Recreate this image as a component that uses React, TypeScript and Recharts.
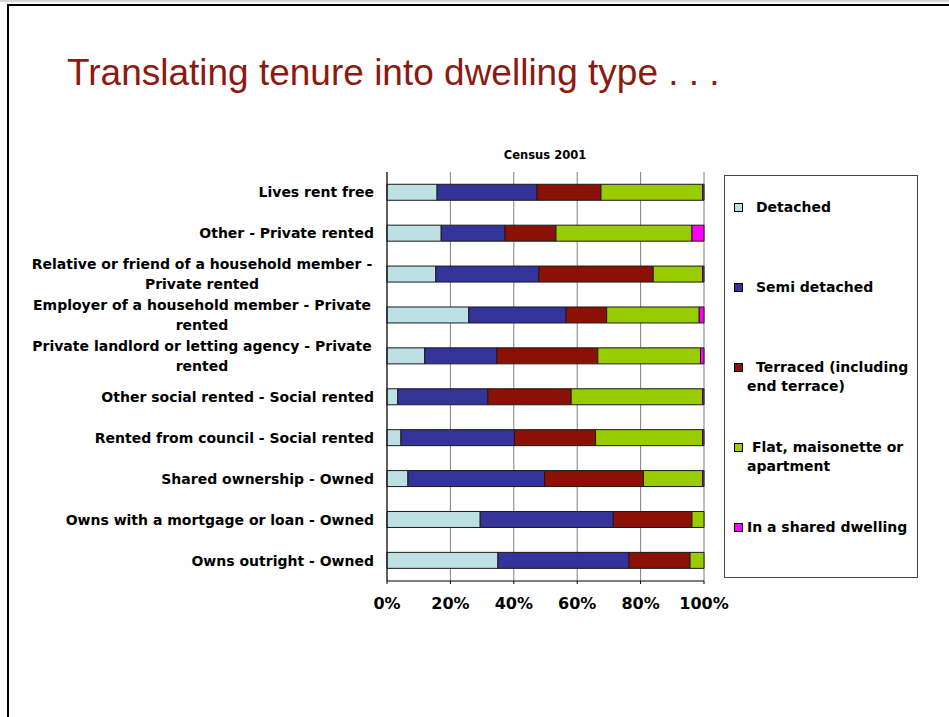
import React from 'react';
import { BarChart, Bar, XAxis, YAxis, CartesianGrid, Legend } from 'recharts';

// Tenure categories, top to bottom
const tenures = [
  'Lives rent free',
  'Other - Private rented',
  'Relative or friend of a household member - Private rented',
  'Employer of a household member - Private rented',
  'Private landlord or letting agency - Private rented',
  'Other social rented - Social rented',
  'Rented from council - Social rented',
  'Shared ownership - Owned',
  'Owns with a mortgage or loan - Owned',
  'Owns outright - Owned',
];

// Share of households (%) in each dwelling type, one value per tenure
const detached = [15.8, 17.1, 15.4, 25.8, 11.9, 3.4, 4.4, 6.6, 29.4, 35.0];
const semiDetached = [31.5, 20.1, 32.5, 30.7, 22.8, 28.4, 35.8, 43.1, 42.0, 41.3];
const terraced = [20.2, 16.1, 36.1, 12.8, 31.8, 26.3, 25.6, 31.2, 24.8, 19.3];
const flat = [32.1, 42.9, 15.6, 29.2, 32.4, 41.5, 33.8, 18.7, 3.8, 4.4];
const sharedDwelling = [0.4, 3.8, 0.4, 1.5, 1.1, 0.4, 0.4, 0.4, 0, 0];

const xTicks = [0, 0.2, 0.4, 0.6, 0.8, 1];

const series = [
  { key: 'detached', name: 'Detached', color: '#BCE0E3', values: detached, indent: 9 },
  { key: 'semi', name: 'Semi detached', color: '#333399', values: semiDetached, indent: 9 },
  { key: 'terraced', name: 'Terraced (including end terrace)', color: '#8B1006', values: terraced, indent: 9 },
  { key: 'flat', name: 'Flat, maisonette or apartment', color: '#99CC00', values: flat, indent: 5 },
  { key: 'shared', name: 'In a shared dwelling', color: '#FF00FF', values: sharedDwelling, indent: 0 },
];

const data = tenures.map((tenure, i) => {
  const row: Record<string, string | number> = { tenure };
  series.forEach((s) => {
    row[s.key] = s.values[i];
  });
  return row;
});

const FONT = '"DejaVu Sans", Verdana, sans-serif';
const LABEL_SIZE = 14;
const WRAP_WIDTH = 350;

let measureCtx: CanvasRenderingContext2D | null = null;
function wrapLabel(text: string): string[] {
  if (!measureCtx) measureCtx = document.createElement('canvas').getContext('2d');
  const ctx = measureCtx!;
  ctx.font = `bold ${LABEL_SIZE}px "DejaVu Sans"`;
  const words = text.split(' ');
  const lines: string[] = [];
  let line = '';
  for (const w of words) {
    const next = line ? line + ' ' + w : w;
    if (line && ctx.measureText(next).width > WRAP_WIDTH) {
      lines.push(line);
      line = w;
    } else {
      line = next;
    }
  }
  lines.push(line);
  return lines;
}

// single-line labels sit flush right, wrapped ones are centred in the label column
const TenureTick = (props: any) => {
  const { x, y, payload } = props;
  const lines = wrapLabel(String(payload.value));
  const style = { fontFamily: FONT, fontSize: LABEL_SIZE, fontWeight: 'bold' as const, fill: '#000' };
  if (lines.length === 1) {
    return (
      <text x={x} y={y} dy="0.36em" textAnchor="end" style={style}>
        {lines[0]}
      </text>
    );
  }
  const cx = x - 172;
  return (
    <text textAnchor="middle" style={style}>
      {lines.map((l, i) => (
        <tspan key={i} x={cx} y={y + (i - (lines.length - 1) / 2) * 20} dy="0.36em">
          {l}
        </tspan>
      ))}
    </text>
  );
};

const seriesIndex = (name: string) => series.findIndex((s) => s.name === name);

const LegendBox = (props: any) => {
  // keep the legend in series order (top of the stack first)
  const payload = [...(props.payload || [])].sort(
    (a: any, b: any) => seriesIndex(a.value) - seriesIndex(b.value),
  );
  return (
    <div
      style={{
        boxSizing: 'border-box',
        width: 194,
        height: 403,
        border: '1px solid #444',
        background: '#fff',
        paddingTop: 22,
        fontFamily: FONT,
        fontSize: 14,
        fontWeight: 'bold',
        color: '#000',
      }}
    >
      {payload.map((entry: any) => {
        const s = series[seriesIndex(entry.value)];
        return (
          <div key={entry.value} style={{ position: 'relative', height: 80, paddingLeft: 22 }}>
            <span
              style={{
                position: 'absolute',
                left: 9,
                top: 5,
                width: 9,
                height: 9,
                boxSizing: 'border-box',
                border: '1px solid #000',
                background: entry.color,
              }}
            />
            <div style={{ width: 170, lineHeight: '19px', textIndent: s ? s.indent : 0 }}>{entry.value}</div>
          </div>
        );
      })}
    </div>
  );
};

const boundaryTicks = tenures.map((_, i) => i).concat(tenures.length);

export default function App() {
  return (
    <div
      style={{
        position: 'absolute',
        left: 0,
        top: 0,
        width: 949,
        height: 717,
        background: '#fff',
        overflow: 'hidden',
      }}
    >
      <div style={{ position: 'absolute', left: 0, top: 0, width: 949, height: 2, background: '#d4d4d4' }} />
      <div
        style={{
          position: 'absolute',
          left: 7,
          top: 4,
          width: 960,
          height: 760,
          borderTop: '2px solid #000',
          borderLeft: '2px solid #000',
        }}
      />
      <div
        style={{
          position: 'absolute',
          left: 67,
          top: 54,
          fontFamily: '"Liberation Sans", Arial, sans-serif',
          fontSize: 37,
          lineHeight: '37px',
          color: '#8C1A10',
          whiteSpace: 'nowrap',
        }}
      >
        Translating tenure into dwelling type . . .
      </div>
      <div
        style={{
          position: 'absolute',
          left: 445,
          width: 200,
          top: 147,
          textAlign: 'center',
          fontFamily: FONT,
          fontSize: 11.5,
          fontWeight: 'bold',
          lineHeight: '16px',
        }}
      >
        Census 2001
      </div>
      <div style={{ position: 'absolute', left: 0, top: 0 }}>
        <BarChart
          width={949}
          height={717}
          data={data}
          layout="vertical"
          stackOffset="expand"
          barCategoryGap="30%"
          margin={{ top: 172, right: 245, bottom: 96, left: 0 }}
        >
          <CartesianGrid horizontal={false} stroke="#808080" />
          <XAxis
            type="number"
            domain={[0, 1]}
            ticks={xTicks}
            tickFormatter={(v: number) => `${Math.round(v * 100)}%`}
            axisLine={{ stroke: '#000' }}
            tickLine={{ stroke: '#000' }}
            tickSize={3}
            tickMargin={14}
            height={40}
            tick={{ fontFamily: FONT, fontSize: 16, fontWeight: 'bold', fill: '#000' }}
            interval={0}
          />
          <XAxis
            xAxisId="top"
            orientation="top"
            type="number"
            domain={[0, 1]}
            allowDataOverflow
            height={0}
            tick={false}
            tickLine={false}
            axisLine={{ stroke: '#000' }}
          />
          <YAxis
            type="category"
            dataKey="tenure"
            width={387}
            tickSize={0}
            tickMargin={13}
            tickLine={false}
            axisLine={{ stroke: '#000' }}
            tick={<TenureTick />}
            interval={0}
          />
          <YAxis
            yAxisId="bounds"
            type="number"
            domain={[0, tenures.length]}
            allowDataOverflow
            ticks={boundaryTicks}
            interval={0}
            width={0}
            tickSize={4}
            tick={false}
            tickLine={{ stroke: '#404040' }}
            axisLine={false}
          />
          <YAxis
            yAxisId="edge"
            orientation="right"
            type="number"
            domain={[0, 1]}
            allowDataOverflow
            width={0}
            tick={false}
            tickLine={false}
            axisLine={{ stroke: '#000' }}
          />
          <Legend
            layout="vertical"
            align="center"
            verticalAlign="middle"
            content={<LegendBox />}
            wrapperStyle={{ left: 724, top: 175, width: 194, height: 403 }}
          />
          {series.map((s) => (
            <Bar
              key={s.key}
              dataKey={s.key}
              name={s.name}
              stackId="tenure"
              fill={s.color}
              stroke="#1a1a1a"
              strokeWidth={1}
              legendType="square"
              isAnimationActive={false}
            />
          ))}
        </BarChart>
      </div>
    </div>
  );
}
